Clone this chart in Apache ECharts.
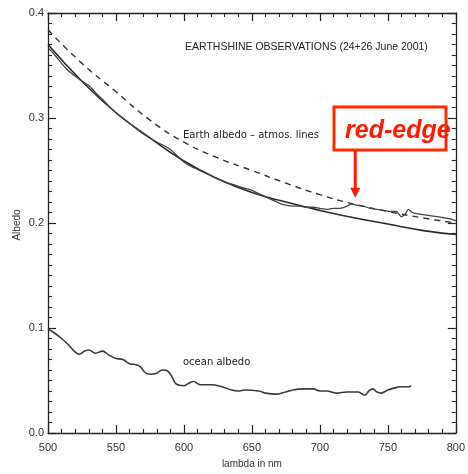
<!DOCTYPE html>
<html>
<head>
<meta charset="utf-8">
<script src="https://cdn.jsdelivr.net/npm/echarts@6/dist/echarts.min.js"></script>
<style>
html,body{margin:0;padding:0;background:#fff;}
#c{width:468px;height:474px;}
</style>
</head>
<body>
<div id="c"></div>
<script>
// ---- data ----
const xTicks = [500, 550, 600, 650, 700, 750, 800];
const yTicks = [0.0, 0.1, 0.2, 0.3, 0.4];

const modelLambda = [500, 525, 550, 575, 600, 625, 650, 675, 700, 725, 750, 775, 800];
const modelAlbedo = [0.370, 0.335, 0.305, 0.281, 0.259, 0.242, 0.229, 0.220, 0.212, 0.205, 0.199, 0.193, 0.189];

const dashedLambda = [500, 525, 550, 575, 600, 625, 650, 675, 700, 725, 750, 775, 800];
const dashedAlbedo = [0.384, 0.352, 0.325, 0.298, 0.277, 0.262, 0.250, 0.238, 0.227, 0.218, 0.211, 0.205, 0.200];

const earthLambda = [500, 505, 510, 515, 520, 525, 530, 535, 540, 545, 550, 555, 560, 565, 570, 575, 580, 585, 590, 595,
  600, 605, 610, 615, 620, 625, 630, 635, 640, 645, 650, 655, 660, 665, 670, 675, 680, 685, 690, 695,
  700, 705, 710, 715, 720, 723, 727, 732, 737, 742, 747, 752, 756, 760, 763, 765, 768, 771, 776, 781, 786, 791, 796, 800];
const earthAlbedo = [0.367, 0.360, 0.352, 0.345, 0.340, 0.335, 0.331, 0.324, 0.318, 0.311, 0.305, 0.300, 0.295, 0.290, 0.285, 0.281, 0.277, 0.274, 0.270, 0.264,
  0.258, 0.254, 0.251, 0.248, 0.245, 0.242, 0.239, 0.237, 0.235, 0.233, 0.231, 0.228, 0.225, 0.222, 0.219, 0.217, 0.216, 0.216, 0.215, 0.215,
  0.214, 0.213, 0.214, 0.214, 0.216, 0.218, 0.217, 0.216, 0.214, 0.213, 0.212, 0.211, 0.211, 0.206, 0.209, 0.213, 0.210, 0.209, 0.208, 0.207, 0.206, 0.205, 0.204, 0.202];

const oceanLambda = [500, 505, 510, 515, 520, 523, 527, 530, 535, 540, 545, 550, 555, 560, 565, 568, 572, 576, 580, 584, 588, 591, 594,
  600, 603, 607, 612, 620, 628, 635, 640, 645, 655, 660, 668, 672, 680, 688, 695, 700, 705, 712, 720, 728, 733, 736, 739, 742, 745, 750, 755, 760, 765, 767];
const oceanAlbedo = [0.099, 0.095, 0.090, 0.084, 0.077, 0.075, 0.078, 0.079, 0.076, 0.078, 0.074, 0.071, 0.070, 0.066, 0.065, 0.063, 0.057, 0.056, 0.057, 0.060, 0.059, 0.054, 0.047,
  0.045, 0.047, 0.049, 0.046, 0.046, 0.044, 0.041, 0.040, 0.041, 0.040, 0.038, 0.037, 0.038, 0.041, 0.042, 0.042, 0.040, 0.040, 0.038, 0.039, 0.039, 0.036, 0.040, 0.042, 0.039, 0.038, 0.041, 0.043, 0.044, 0.044, 0.045];

const titleText = 'EARTHSHINE OBSERVATIONS (24+26 June 2001)';
const earthLabel = 'Earth albedo \u2013 atmos. lines';
const oceanLabel = 'ocean albedo';
const redEdgeLabel = 'red-edge';
const xName = 'lambda in nm';
const yName = 'Albedo';

function pairs(xs, ys) { return xs.map((x, i) => [x, ys[i]]); }

const chart = echarts.init(document.getElementById('c'), null, {renderer: 'canvas'});
const font = 'Liberation Sans';
const axisCol = '#222';

function xAx(pos, showLabel) {
  return {
    type: 'value', position: pos, min: 500, max: 800, interval: 50,
    axisLine: {show: true, onZero: false, lineStyle: {color: axisCol, width: 1.3}},
    axisTick: {show: true, inside: true, length: 8, lineStyle: {color: axisCol, width: 1.2}},
    minorTick: {show: true, splitNumber: 5, length: 4, lineStyle: {color: axisCol, width: 1.1}},
    splitLine: {show: false},
    axisLabel: {show: showLabel, margin: 9, color: '#333', fontFamily: font, fontSize: 11},
    name: showLabel ? xName : '', nameLocation: 'middle', nameGap: 26,
    nameTextStyle: {color: '#333', fontFamily: font, fontSize: 10}
  };
}
function yAx(pos, showLabel) {
  return {
    type: 'value', position: pos, min: 0, max: 0.4, interval: 0.1,
    axisLine: {show: true, onZero: false, lineStyle: {color: axisCol, width: 1.3}},
    axisTick: {show: true, inside: true, length: 8, lineStyle: {color: axisCol, width: 1.2}},
    minorTick: {show: true, splitNumber: 10, length: 4, lineStyle: {color: axisCol, width: 1.1}},
    splitLine: {show: false},
    axisLabel: {show: showLabel, margin: 4, color: '#333', fontFamily: font, fontSize: 11,
      formatter: v => v.toFixed(1)}
  };
}

chart.setOption({
  animation: false,
  backgroundColor: '#fff',
  grid: {left: 48, right: 12, top: 13, bottom: 37},
  xAxis: [xAx('bottom', true), xAx('top', false)],
  yAxis: [yAx('left', true), yAx('right', false)],
  series: [
    {type: 'line', data: pairs(modelLambda, modelAlbedo), smooth: true, showSymbol: false,
      lineStyle: {color: '#2a2a2a', width: 1.6}},
    {type: 'line', data: pairs(dashedLambda, dashedAlbedo), smooth: true, showSymbol: false,
      lineStyle: {color: '#333', width: 1.4, type: [6, 5]}},
    {type: 'line', data: pairs(earthLambda, earthAlbedo), smooth: 0.3, showSymbol: false,
      lineStyle: {color: '#444', width: 1.3}},
    {type: 'line', data: pairs(oceanLambda, oceanAlbedo), smooth: 0.4, showSymbol: false,
      lineStyle: {color: '#3a3a3a', width: 1.6}}
  ]
});

const tip = chart.convertToPixel({xAxisIndex: 0, yAxisIndex: 0}, [726, 0.224]);
chart.setOption({
  graphic: [
    {type: 'text', left: 185, top: 42, style: {text: titleText, fill: '#222', font: '10.5px "Liberation Sans"'}},
    {type: 'text', left: 183, top: 130, style: {text: earthLabel, fill: '#222', font: '10px "DejaVu Sans"'}},
    {type: 'text', left: 183, top: 357, style: {text: oceanLabel, fill: '#222', font: '10px "DejaVu Sans"'}},
    {type: 'text', x: 17, y: 225, rotation: Math.PI / 2,
      style: {text: yName, fill: '#333', font: '10px "Liberation Sans"', textAlign: 'center', textVerticalAlign: 'middle'}},
    {type: 'rect', shape: {x: 334, y: 107, width: 112, height: 43},
      style: {fill: '#fff', stroke: '#ff2a00', lineWidth: 3}},
    {type: 'text', style: {x: 345, y: 131, text: redEdgeLabel, fill: '#ff1a00',
      font: 'italic bold 25px "Liberation Sans"', textVerticalAlign: 'middle'}},
    {type: 'line', shape: {x1: tip[0], y1: 151, x2: tip[0], y2: tip[1] - 8},
      style: {stroke: '#ff1a00', lineWidth: 3}},
    {type: 'polygon', shape: {points: [[tip[0] - 5, tip[1] - 10], [tip[0] + 5, tip[1] - 10], [tip[0], tip[1]]]},
      style: {fill: '#ff1a00'}}
  ]
});
</script>
</body>
</html>
